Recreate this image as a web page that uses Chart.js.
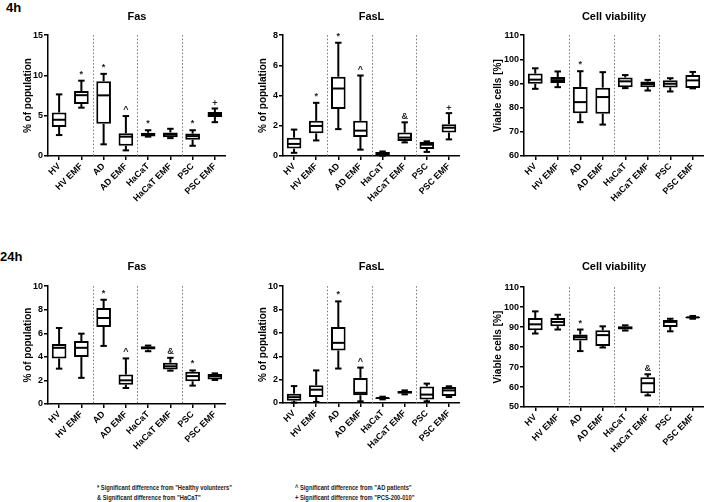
<!DOCTYPE html>
<html><head><meta charset="utf-8">
<script src="https://cdn.jsdelivr.net/npm/chart.js@4.4.0/dist/chart.umd.min.js"></script>
<style>
body{margin:0;background:#fff;width:706px;height:502px;position:relative;overflow:hidden;font-family:"Liberation Sans",Arial,sans-serif;}
canvas{position:absolute;}
.lbl{position:absolute;font-weight:bold;color:#000;white-space:nowrap;}
.leg{position:absolute;font-family:"Liberation Sans",Arial,sans-serif;font-weight:bold;font-size:7px;line-height:10px;color:#222;white-space:nowrap;transform:scaleX(0.82);transform-origin:0 0;}
</style></head><body>
<div class="lbl" style="left:6px;top:0px;font-size:13px">4h</div>
<div class="lbl" style="left:0px;top:249px;font-size:13px">24h</div>
<canvas id="p1" width="208" height="215" style="left:18px;top:0px"></canvas>
<canvas id="p2" width="207" height="215" style="left:253px;top:0px"></canvas>
<canvas id="p3" width="216" height="215" style="left:488px;top:0px"></canvas>
<canvas id="p4" width="208" height="215" style="left:18px;top:250px"></canvas>
<canvas id="p5" width="207" height="215" style="left:253px;top:250px"></canvas>
<canvas id="p6" width="216" height="215" style="left:488px;top:250px"></canvas>
<div class="leg" style="left:97px;top:483px">* Significant difference from "Healthy volunteers"<br>&amp; Significant difference from "HaCaT"</div>
<div class="leg" style="left:295px;top:483px">^ Significant difference from "AD patients"<br>+ Significant difference from "PCS-200-010"</div>
<script>
// ---- DATA ----
const categories = ['HV','HV EMF','AD','AD EMF','HaCaT','HaCaT EMF','PSC','PSC EMF'];
const groupBreaks = [1, 3, 5]; // dotted separator after these category indices

// each box: [min, q1, median, q3, max]
const fas4h = [[2.6,3.6,4.5,5.4,7.65],[6.0,6.45,7.55,8.07,9.35],[1.45,4.0,7.53,9.28,10.2],[0.7,1.27,2.4,2.82,4.96],
               [2.4,2.42,2.68,2.88,3.2],[2.22,2.32,2.66,2.92,3.38],[1.27,2.03,2.47,2.78,3.2],[4.2,4.85,5.13,5.45,5.9]];
const fas4hMarks = ['','*','*','^','*','','*','+'];

const fasl4h = [[0.21,0.49,0.8,1.21,1.75],[1.03,1.5,1.99,2.33,3.52],[1.78,3.12,4.47,5.25,7.5],[0.42,1.26,1.68,2.33,5.33],
                [0.02,0.05,0.16,0.27,0.3],[0.9,0.99,1.22,1.55,2.23],[0.27,0.47,0.75,0.93,0.97],[1.1,1.56,1.87,2.11,2.84]];
const fasl4hMarks = ['','*','*','^','','&','','+'];

const via4h = [[87.8,89.9,91.6,94.1,96.3],[88.5,90.2,91.4,92.7,95.0],[74.0,77.7,82.3,88.6,95.1],[73.0,77.5,84.4,88.3,94.7],
               [88.1,88.5,90.9,92.5,93.5],[87.1,88.5,89.8,90.8,91.5],[86.7,88.4,89.9,91.4,92.2],[88.0,88.1,91.3,93.5,94.8]];
const via4hMarks = ['','','*','','','','',''];

const fas24h = [[3.0,3.86,4.77,5.1,6.45],[2.22,3.98,4.77,5.35,5.97],[4.93,6.54,7.3,8.15,8.85],[1.36,1.64,2.01,2.5,3.87],
                [4.48,4.62,4.76,4.9,4.96],[2.83,2.92,3.2,3.5,3.92],[1.56,1.93,2.37,2.73,2.85],[2.04,2.07,2.35,2.55,2.6]];
const fas24hMarks = ['','','*','^','','&','*',''];

const fasl24h = [[0.03,0.2,0.5,0.8,1.45],[0.09,0.51,1.14,1.52,2.79],[2.95,4.5,5.15,6.5,8.7],[0.14,0.66,0.87,2.15,3.03],
                 [0.31,0.34,0.43,0.48,0.54],[0.74,0.8,0.94,1.03,1.08],[0.14,0.3,0.72,1.42,1.66],[0.51,0.6,1.08,1.38,1.43]];
const fasl24hMarks = ['','','*','^','','','',''];

const via24h = [[86.8,88.5,91.4,94.6,97.9],[88.8,90.5,92.6,94.6,96.2],[78.0,83.3,85.0,86.3,88.8],[79.8,80.6,86.0,88.4,90.4],
                [88.3,88.8,89.6,90.4,90.9],[55.8,56.9,61.9,64.9,66.4],[87.9,90.1,92.6,93.6,94.2],[94.2,94.4,94.9,95.2,95.6]];
const via24hMarks = ['','','*','','','&','',''];

// ---- RENDER ----
const F = '"Liberation Sans", Arial, sans-serif';
const markLift = {'*':4,'^':4,'&':3.5,'+':2};

function boxPlugin(boxes, marks) {
  return {
    id: 'boxWhisk',
    beforeDatasetsDraw(chart) {
      const {ctx, chartArea, scales:{x}} = chart;
      ctx.save();
      ctx.strokeStyle = '#777'; ctx.lineWidth = 1; ctx.setLineDash([1.5, 2]);
      groupBreaks.forEach(i => {
        const px = Math.round((x.getPixelForValue(i) + x.getPixelForValue(i+1)) / 2) + 0.5;
        ctx.beginPath(); ctx.moveTo(px, chartArea.top); ctx.lineTo(px, chartArea.bottom); ctx.stroke();
      });
      ctx.restore();
    },
    afterDatasetsDraw(chart) {
      const {ctx, scales:{x, y}} = chart;
      const meta = chart.getDatasetMeta(0);
      ctx.save();
      ctx.strokeStyle = '#000'; ctx.lineWidth = 2; ctx.lineCap = 'butt';
      const seg = (x1,y1,x2,y2) => { ctx.beginPath(); ctx.moveTo(x1,y1); ctx.lineTo(x2,y2); ctx.stroke(); };
      boxes.forEach((b, i) => {
        const cx = x.getPixelForValue(i);
        const w = meta.data[i].width;
        const [mn, q1, md, q3, mx] = b;
        const cw = w * 0.22;
        seg(cx, y.getPixelForValue(q3), cx, y.getPixelForValue(mx));
        seg(cx, y.getPixelForValue(q1), cx, y.getPixelForValue(mn));
        seg(cx - cw, y.getPixelForValue(mx), cx + cw, y.getPixelForValue(mx));
        seg(cx - cw, y.getPixelForValue(mn), cx + cw, y.getPixelForValue(mn));
        seg(cx - w/2 + 1, y.getPixelForValue(md), cx + w/2 - 1, y.getPixelForValue(md));
        const m = marks[i];
        if (m) {
          ctx.fillStyle = '#222';
          ctx.font = 'bold 9px ' + F;
          ctx.textAlign = 'center'; ctx.textBaseline = 'alphabetic';
          ctx.fillText(m, cx, y.getPixelForValue(mx) - markLift[m]);
        }
      });
      ctx.restore();
    }
  };
}

function makeChart(id, boxes, marks, cfg) {
  new Chart(document.getElementById(id), {
    type: 'bar',
    data: {
      labels: categories,
      datasets: [{
        data: boxes.map(b => [b[1], b[3]]),
        backgroundColor: '#fff', borderColor: '#000', borderWidth: 2, borderSkipped: false,
        barPercentage: 0.66, categoryPercentage: 1
      }]
    },
    options: {
      responsive: false, animation: false, devicePixelRatio: 1,
      layout: { padding: 0 },
      plugins: {
        legend: { display: false }, tooltip: { enabled: false },
        title: { display: true, text: cfg.title, fullSize: false, color: '#000',
                 font: { family: F, size: 11, weight: 'bold' }, padding: { top: 10, bottom: cfg.tpb } }
      },
      scales: {
        x: {
          offset: true,
          grid: { display: true, drawOnChartArea: false, drawTicks: true, tickLength: 4, color: '#000', lineWidth: 1.5, offset: false },
          border: { color: '#000', width: 1.5 },
          ticks: { color: '#000', font: { family: F, size: 9, weight: 'bold' }, minRotation: 45, maxRotation: 45, padding: 1, autoSkip: false },
          afterFit(s) { s.height = cfg.xh; }
        },
        y: {
          min: cfg.min, max: cfg.max,
          ticks: { stepSize: cfg.step, color: '#000', font: { family: F, size: 9, weight: 'bold' }, padding: 1 },
          grid: { display: true, drawOnChartArea: false, drawTicks: true, tickLength: 4, color: '#000', lineWidth: 1.5 },
          border: { color: '#000', width: 1.5 },
          title: { display: true, text: cfg.ytitle, color: '#000', font: { family: F, size: 10, weight: 'bold' }, padding: { top: 4, bottom: 4 } },
          afterFit(s) { s.width = cfg.yw; }
        }
      }
    },
    plugins: [boxPlugin(boxes, marks)]
  });
}

makeChart('p1', fas4h, fas4hMarks,   { title: 'Fas',  ytitle: '% of population', min: 0, max: 15, step: 5, yw: 30, xh: 59, tpb: 12 });
makeChart('p2', fasl4h, fasl4hMarks, { title: 'FasL', ytitle: '% of population', min: 0, max: 8, step: 2, yw: 30, xh: 59, tpb: 12 });
makeChart('p3', via4h, via4hMarks,   { title: 'Cell viability', ytitle: 'Viable cells [%]', min: 60, max: 110, step: 10, yw: 36, xh: 59, tpb: 12 });
makeChart('p4', fas24h, fas24hMarks, { title: 'Fas',  ytitle: '% of population', min: 0, max: 10, step: 2, yw: 30, xh: 61, tpb: 13 });
makeChart('p5', fasl24h, fasl24hMarks, { title: 'FasL', ytitle: '% of population', min: 0, max: 10, step: 2, yw: 30, xh: 62, tpb: 13 });
makeChart('p6', via24h, via24hMarks, { title: 'Cell viability', ytitle: 'Viable cells [%]', min: 50, max: 110, step: 10, yw: 36, xh: 58, tpb: 14 });
</script>
</body></html>
